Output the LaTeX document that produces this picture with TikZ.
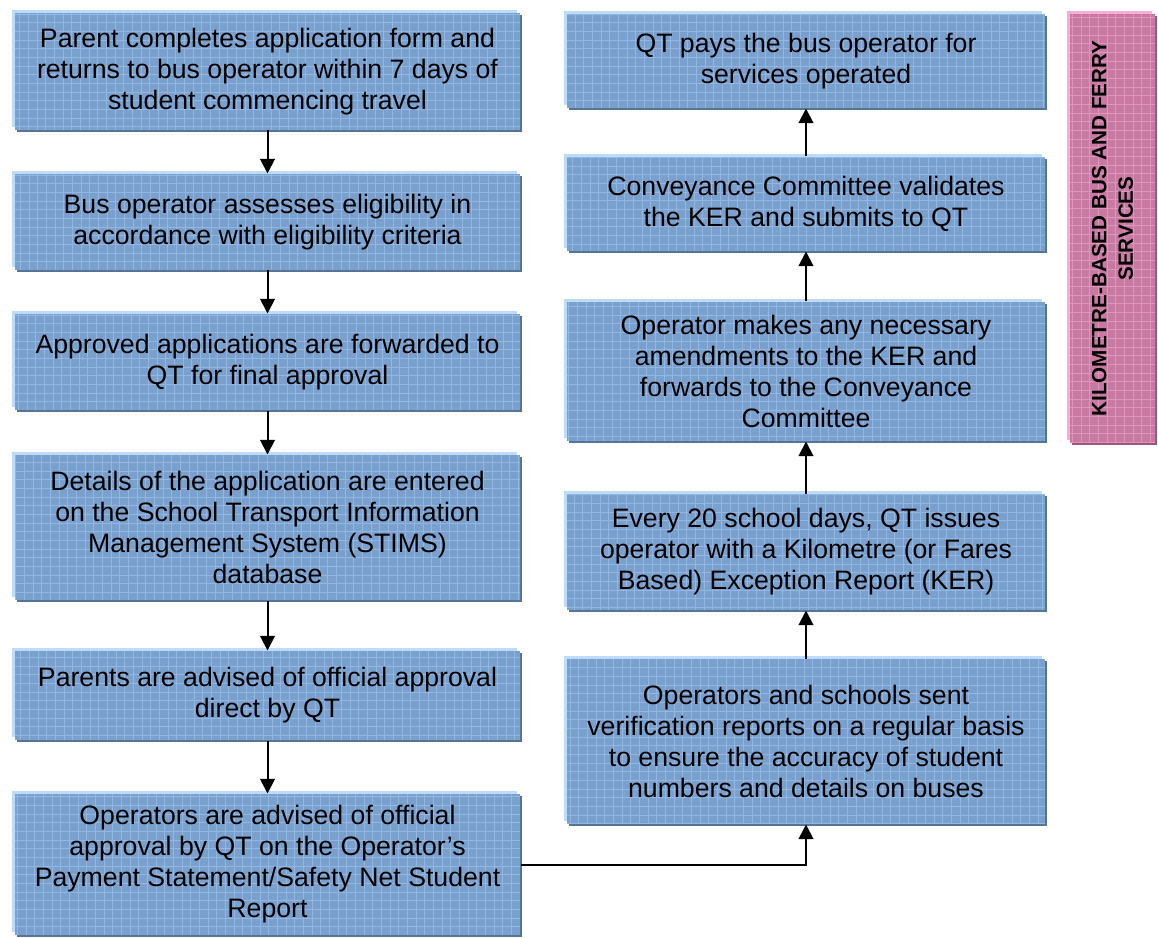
\documentclass[tikz,border=0pt]{standalone}
\usepackage{fontspec}
\setmainfont{Liberation Sans}
\usetikzlibrary{arrows.meta,shadows}

\definecolor{boxfill}{RGB}{122,160,205}
\definecolor{boxgrid}{RGB}{146,183,226}
\definecolor{boxlight}{RGB}{190,220,250}
\definecolor{boxdark}{RGB}{88,116,148}
\definecolor{sidefill}{RGB}{201,122,163}
\definecolor{sidegrid}{RGB}{222,150,188}
\definecolor{sidelight}{RGB}{246,172,212}
\definecolor{sidedark}{RGB}{156,88,122}

\tikzset{every picture/.style={line width=0.75pt}}
\tikzset{
  stepbox/.style={fill=boxfill, draw=none, align=center, inner sep=2pt,
    font=\fontsize{20}{23.25}\selectfont,
    general shadow={fill=boxlight, shadow xshift=-2.25pt, shadow yshift=2.25pt},
    general shadow={fill=boxdark, shadow xshift=1.5pt, shadow yshift=-1.5pt},
    path picture={\draw[boxgrid, line width=0.45pt, step=6.5pt]
      (path picture bounding box.south west) grid (path picture bounding box.north east);}},
  leftbox/.style={stepbox, minimum width=378.75pt},
  rightbox/.style={stepbox, minimum width=358.5pt},
  sidebox/.style={fill=sidefill, draw=none, align=center, rotate=90,
    font=\fontsize{15.5}{20}\selectfont\bfseries,
    minimum width=321.75pt, minimum height=63.75pt,
    general shadow={fill=sidelight, shadow xshift=-2.25pt, shadow yshift=2.25pt},
    general shadow={fill=sidedark, shadow xshift=1.5pt, shadow yshift=-1.5pt},
    path picture={\draw[sidegrid, line width=0.45pt, step=6.5pt]
      (path picture bounding box.south west) grid (path picture bounding box.north east);}},
  flow/.style={-{Triangle[length=11pt,width=11pt]}, line width=1.5pt}
}

\begin{document}
\begin{tikzpicture}[x=0.75pt,y=0.75pt,yscale=-1,xscale=1]
\useasboundingbox (0,0) rectangle (1158,938);

% Left column
\node[leftbox, minimum height=87.75pt] (apply) at (267.5,71.5)
  {Parent completes application form and\\returns to bus operator within 7 days of\\student commencing travel};
\node[leftbox, minimum height=72pt] (assess) at (267.5,222)
  {Bus operator assesses eligibility in\\accordance with eligibility criteria};
\node[leftbox, minimum height=72pt] (forward) at (267.5,362)
  {Approved applications are forwarded to\\QT for final approval};
\node[leftbox, minimum height=108.75pt] (stims) at (267.5,527.5)
  {Details of the application are entered\\on the School Transport Information\\Management System (STIMS)\\database};
\node[leftbox, minimum height=66.75pt] (parents) at (267.5,695.5)
  {Parents are advised of official approval\\direct by QT};
\node[leftbox, minimum height=105.75pt] (operators) at (267.5,864.5)
  {Operators are advised of official\\approval by QT on the Operator’s\\Payment Statement/Safety Net Student\\Report};

% Right column
\node[rightbox, minimum height=70.5pt] (pays) at (806,61)
  {QT pays the bus operator for\\services operated};
\node[rightbox, minimum height=70.5pt] (validates) at (806,204)
  {Conveyance Committee validates\\the KER and submits to QT};
\node[rightbox, minimum height=104.25pt] (amends) at (806,371.5)
  {Operator makes any necessary\\amendments to the KER and\\forwards to the Conveyance\\Committee};
\node[rightbox, minimum height=87pt] (ker) at (806,552)
  {Every 20 school days, QT issues\\operator with a Kilometre (or Fares\\Based) Exception Report (KER)};
\node[rightbox, minimum height=123.75pt] (verify) at (806,741.5)
  {Operators and schools sent\\verification reports on a regular basis\\to ensure the accuracy of student\\numbers and details on buses};

% Side label
\node[sidebox] (side) at (1112.5,228.5)
  {KILOMETRE-BASED BUS AND FERRY\\SERVICES};

% Connectors
\draw[flow] (apply) -- (assess);
\draw[flow] (assess) -- (forward);
\draw[flow] (forward) -- (stims);
\draw[flow] (stims) -- (parents);
\draw[flow] (parents) -- (operators);
\draw[flow] (operators.east) -| (verify.south);
\draw[flow] (verify) -- (ker);
\draw[flow] (ker) -- (amends);
\draw[flow] (amends) -- (validates);
\draw[flow] (validates) -- (pays);

\end{tikzpicture}
\end{document}
